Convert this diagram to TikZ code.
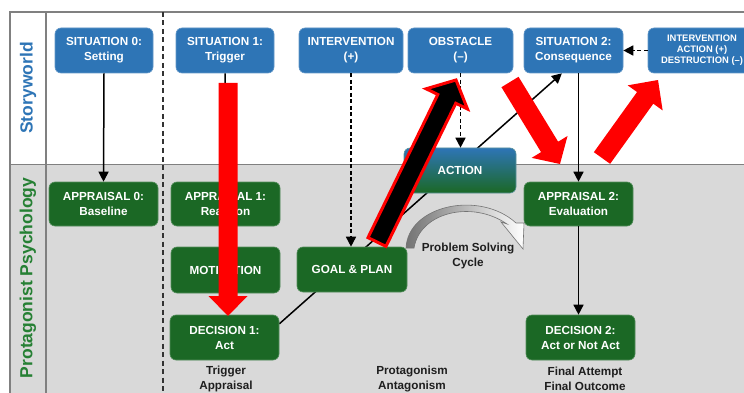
\documentclass[tikz,border=0pt]{standalone}
\usepackage{fontspec}
\setmainfont{Liberation Sans}
\usetikzlibrary{calc,arrows.meta}
\pgfdeclarelayer{bg}
\pgfsetlayers{bg,main}
\definecolor{sblue}{RGB}{46,117,182}
\definecolor{sgreen}{RGB}{27,104,37}
\definecolor{bggray}{RGB}{217,217,217}
\definecolor{framegray}{RGB}{128,128,128}
\definecolor{lblgreen}{RGB}{38,128,52}
\definecolor{txtdark}{RGB}{30,30,30}
\newcommand{\blockarrow}[6]{%
  \coordinate (#2h) at ($(#3)!#6!(#2)$);
  \path[#1] ($(#2)!#4!90:(#3)$) -- ($(#2h)!#4!-90:(#2)$) -- ($(#2h)!#5!-90:(#2)$) -- (#3)
    -- ($(#2h)!#5!90:(#2)$) -- ($(#2h)!#4!90:(#2)$) -- ($(#2)!#4!-90:(#3)$) -- cycle;}
\tikzset{
  box/.style={rounded corners=6pt, text=white, align=center, inner sep=0pt,
    font=\fontsize{11.7}{15}\selectfont\bfseries, line width=0.6pt},
  bluebox/.style={box, fill=sblue, draw=sblue!75!white},
  greenbox/.style={box, fill=sgreen, draw=sgreen!75!white},
  conn/.style={draw=black, line width=1.5pt, -{Triangle[width=10pt,length=10pt]}},
  dconn/.style={conn, line width=1.6pt, dash pattern=on 4pt off 2.5pt},
  lbl/.style={text=txtdark, align=center, font=\fontsize{11.7}{15}\selectfont\bfseries},
  redarrow/.style={fill=red},
  blackarrow/.style={fill=black, draw=red, line width=3pt, line join=miter},
}
\begin{document}
\begin{tikzpicture}[x=1pt,y=-1pt]
\useasboundingbox (0,0) rectangle (744,393);
% nodes
\node[bluebox, minimum width=98pt, minimum height=45pt] (sit0) at (104,50.5) {SITUATION 0:\\Setting};
\node[bluebox, minimum width=98pt, minimum height=45pt] (sit1) at (225,50.5) {SITUATION 1:\\Trigger};
\node[bluebox, minimum width=104pt, minimum height=45pt] (int) at (351,50.5) {INTERVENTION\\(+)};
\node[bluebox, minimum width=105pt, minimum height=45pt] (obs) at (460.5,50.5) {OBSTACLE\\(–)};
\node[bluebox, minimum width=99pt, minimum height=45pt] (sit2) at (573.5,50.5) {SITUATION 2:\\Consequence};
\node[bluebox, minimum width=108pt, minimum height=45pt, font=\fontsize{9.4}{11}\selectfont\bfseries] (iad) at (702,50.5) {INTERVENTION\\ACTION (+)\\DESTRUCTION (–)};
\node[greenbox, minimum width=109pt, minimum height=44pt] (app0) at (103.5,204) {APPRAISAL 0:\\Baseline};
\node[greenbox, minimum width=109pt, minimum height=44pt] (app1) at (225.5,204) {APPRAISAL 1:\\Reaction};
\node[greenbox, minimum width=109pt, minimum height=46pt] (mot) at (225.5,270) {MOTIVATION};
\node[greenbox, minimum width=109pt, minimum height=45pt] (dec1) at (224.5,337.5) {DECISION 1:\\Act};
\node[greenbox, minimum width=110pt, minimum height=45pt] (goal) at (352,269.5) {GOAL \& PLAN};
\node[box, top color=sblue, bottom color=sgreen, draw=sblue!60!sgreen!75!white, minimum width=112pt, minimum height=45pt] (action) at (460,170.5) {ACTION};
\node[greenbox, minimum width=109pt, minimum height=44pt] (app2) at (578.5,204) {APPRAISAL 2:\\Evaluation};
\node[greenbox, minimum width=109pt, minimum height=45pt] (dec2) at (580.5,337.5) {DECISION 2:\\Act or Not Act};
% side labels
\node[rotate=90, text=sblue, font=\fontsize{17.5}{20}\selectfont\bfseries] (swl) at (28,88) {Storyworld};
\node[rotate=90, text=lblgreen, font=\fontsize{17.5}{20}\selectfont\bfseries] (ppl) at (28,278) {Protagonist Psychology};
% bottom labels
\node[lbl] (l1) at (226,379) {Trigger\\Appraisal};
\node[lbl] (l2) at (412,379) {Protagonism\\Antagonism};
\node[lbl] (l3) at (585,379) {Final Attempt\\Final Outcome};
\node[lbl] (l4) at (468,256) {Problem Solving\\Cycle};
% background layer
\begin{pgfonlayer}{bg}
  \fill[white] (0,0) rectangle (744,393);
  \fill[bggray] (10,164.5) rectangle (744,393);
  \draw[framegray, line width=1.5pt] (744,12) -- (10,12) -- (10,393);
  \draw[framegray, line width=1.5pt] (46,12) -- (46,393);
  \draw[framegray, line width=1.5pt] (10,164.5) -- (744,164.5);
  \draw[black!80, line width=1.4pt, dash pattern=on 5pt off 3.5pt] (163,12) -- (163,393);
  \draw[conn] (dec1.14) -- (sit2.243);
\end{pgfonlayer}
% connectors
\draw[conn] (sit0.south) -- (app0.north);
\draw[conn] (sit1.south) -- (app1.north);
\draw[dconn] (int.south) -- (int.south |- goal.north);
\draw[dconn] (obs.south) -- (obs.south |- action.north);
\draw[conn] (app2.north |- sit2.south) -- (app2.north);
\draw[conn] (app2.south) -- (app2.south |- dec2.north);
\draw[dconn] (iad.west) -- (sit2.east);
% problem solving cycle arrow
\path[left color=black!55, right color=white, draw=black!55, line width=0.6pt]
  (406,248) .. controls (408,205) and (480,190) .. (516,223)
  -- (524,223) -- (523,249) -- (501,222) -- (507,224)
  .. controls (472,200) and (420,212) .. (414,248) -- cycle;
% big arrows
\coordinate (r1t) at (228,83); \coordinate (r1p) at (228,316);
\coordinate (bkt) at (377,242); \coordinate (bkp) at (456,80);
\coordinate (r3t) at (510,82); \coordinate (r3p) at (560,164);
\coordinate (r4t) at (602,158); \coordinate (r4p) at (658,80);
\blockarrow{redarrow}{r1t}{r1p}{9.5pt}{19.5pt}{20pt}
\blockarrow{blackarrow}{bkt}{bkp}{10pt}{23pt}{21pt}
\blockarrow{redarrow}{r3t}{r3p}{10pt}{21pt}{20pt}
\blockarrow{redarrow}{r4t}{r4p}{10pt}{21.5pt}{22pt}
\end{tikzpicture}
\end{document}
